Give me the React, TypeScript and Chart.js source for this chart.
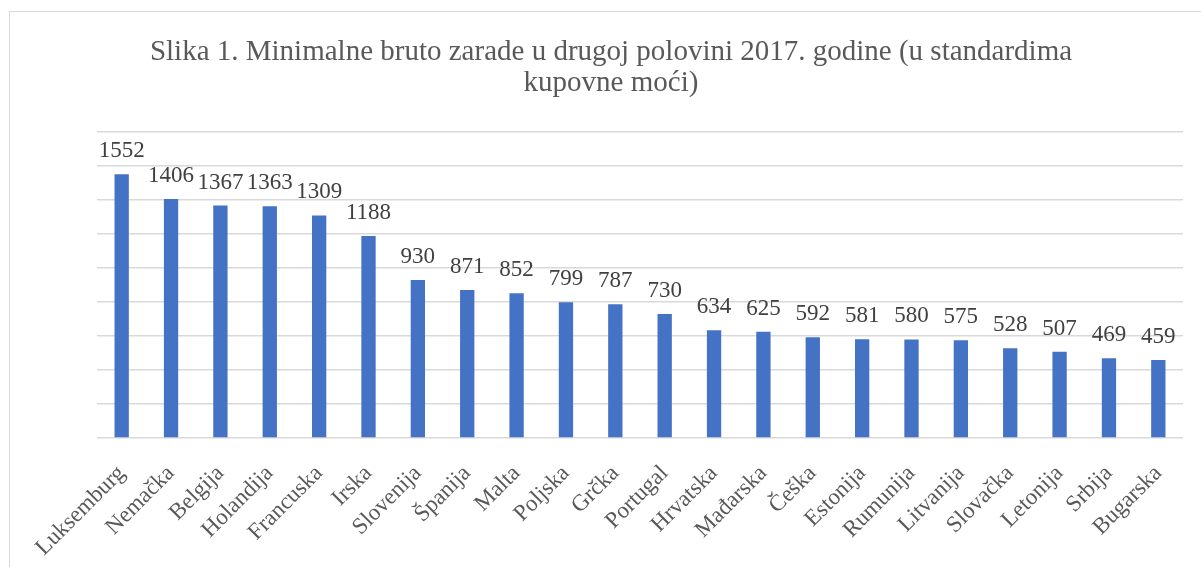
import React, { useEffect, useRef } from "react";
import { Chart, registerables } from "chart.js";

Chart.register(...registerables);

const titleLines = [
  "Slika 1. Minimalne bruto zarade u drugoj polovini 2017. godine (u standardima",
  "kupovne moći)",
];

const countries = [
  "Luksemburg", "Nemačka", "Belgija", "Holandija", "Francuska", "Irska",
  "Slovenija", "Španija", "Malta", "Poljska", "Grčka", "Portugal",
  "Hrvatska", "Mađarska", "Češka", "Estonija", "Rumunija", "Litvanija",
  "Slovačka", "Letonija", "Srbija", "Bugarska",
];

const wages = [
  1552, 1406, 1367, 1363, 1309, 1188, 930, 871, 852, 799, 787, 730,
  634, 625, 592, 581, 580, 575, 528, 507, 469, 459,
];

const yMin = 0;
const yMax = 1800;
const yStep = 200;

const SERIF = "'Liberation Serif', 'Times New Roman', serif";

export default function App() {
  const ref = useRef<HTMLCanvasElement | null>(null);

  useEffect(() => {
    if (!ref.current) return;

    const titlePlugin = {
      id: "customTitle",
      afterDraw(chart: any) {
        const ctx = chart.ctx;
        ctx.save();
        ctx.font = `29px ${SERIF}`;
        ctx.fillStyle = "#595959";
        ctx.textAlign = "center";
        ctx.textBaseline = "alphabetic";
        ctx.fillText(titleLines[0], 611, 60);
        ctx.fillText(titleLines[1], 611, 91);
        ctx.restore();
      },
    };

    const valueLabels = {
      id: "valueLabels",
      afterDatasetsDraw(chart: any) {
        const ctx = chart.ctx;
        const meta = chart.getDatasetMeta(0);
        ctx.save();
        ctx.font = `23px ${SERIF}`;
        ctx.fillStyle = "#404040";
        ctx.textAlign = "center";
        ctx.textBaseline = "alphabetic";
        meta.data.forEach((el: any, i: number) => {
          ctx.fillText(String(wages[i]), el.x, el.y - 17);
        });
        ctx.restore();
      },
    };

    const chart = new Chart(ref.current, {
      type: "bar",
      data: {
        labels: countries,
        datasets: [
          {
            data: wages,
            backgroundColor: "#4472C4",
            borderWidth: 0,
            barPercentage: 0.29,
            categoryPercentage: 1,
          },
        ],
      },
      options: {
        animation: false,
        responsive: false,
        devicePixelRatio: 1,
        layout: { padding: { left: 97, right: 18, top: 132, bottom: 0 } },
        plugins: {
          legend: { display: false },
          title: { display: false },
          tooltip: { enabled: false },
        },
        scales: {
          x: {
            grid: { display: false },
            border: { display: false },
            ticks: {
              autoSkip: false,
              maxRotation: 45,
              minRotation: 45,
              padding: 14,
              color: "#595959",
              font: { family: SERIF, size: 23 },
            },
            afterFit(scale: any) {
              scale.height = 129;
            },
          },
          y: {
            min: yMin,
            max: yMax,
            ticks: { display: false, stepSize: yStep },
            grid: { color: "#d9d9d9", lineWidth: 1.5, drawTicks: false },
            border: { display: false },
            afterFit(scale: any) {
              scale.width = 0;
            },
          },
        },
      },
      plugins: [titlePlugin, valueLabels],
    });

    return () => chart.destroy();
  }, []);

  return (
    <div
      style={{
        position: "fixed",
        left: 0,
        top: 0,
        width: 1201,
        height: 567,
        overflow: "hidden",
        background: "#ffffff",
      }}
    >
      <div
        style={{
          position: "absolute",
          left: 9,
          top: 11,
          width: 1240,
          height: 620,
          border: "1px solid #d9d9d9",
        }}
      />
      <canvas
        ref={ref}
        width={1201}
        height={567}
        style={{ position: "absolute", left: 0, top: 0, width: 1201, height: 567 }}
      />
    </div>
  );
}
